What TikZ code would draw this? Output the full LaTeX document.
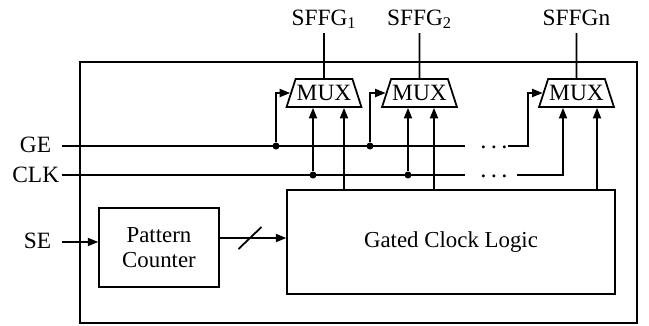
\documentclass[tikz,border=0pt]{standalone}
\usepackage{fontspec}
\setmainfont{Liberation Serif}
\usetikzlibrary{arrows.meta,shapes.geometric}
\newlength{\MuxWidth}
\newlength{\MuxHeight}
\newlength{\WireWidth}
\setlength{\MuxWidth}{1.5cm}
\setlength{\MuxHeight}{0.56cm}
\setlength{\WireWidth}{1pt}
\newcommand{\gapdots}{·\kern1.3pt·\kern1.3pt·}
\tikzset{
  block/.style={draw, rectangle, line width=0.8pt, inner sep=0pt, align=center, font=\fontsize{13}{14.5}\selectfont},
  mux/.style={draw, trapezium, trapezium left angle=64, trapezium right angle=64, trapezium stretches=true, minimum width=\MuxWidth, minimum height=\MuxHeight, inner xsep=-2pt, inner ysep=0pt, font=\fontsize{13.3}{14}\selectfont},
  pin label/.style={draw=none, anchor=east, inner sep=0pt, font=\fontsize{13.3}{14}\selectfont},
  out label/.style={draw=none, anchor=south, inner sep=1pt, text depth=3pt, font=\fontsize{13.3}{14}\selectfont},
  gap dots/.style={draw=none, anchor=base, inner sep=0pt, font=\fontsize{14}{14}\selectfont},
  chip border/.style={draw, line width=1.6pt},
  wire/.style={line width=\WireWidth},
  junction/.style={fill, circle, inner sep=0pt, minimum size=0.14cm}
}

\begin{document}
\begin{tikzpicture}[
  x=0.02cm, y=-0.02cm,
  >={Triangle[length=6pt,width=4.6pt]},
  wire
]
  \useasboundingbox (0,0) rectangle (649,325);
  \draw[chip border] (80,62) rectangle (637,323);

  \node[block, minimum width=2.4cm, minimum height=1.58cm] (pc) at (159,247.5) {Pattern\\Counter};
  \node[block, minimum width=6.56cm, minimum height=2.08cm] (gcl) at (451,242) {Gated Clock Logic};

  \node[mux] (mux1) at (324,93) {MUX};
  \node[mux] (mux2) at (419.5,93) {MUX};
  \node[mux] (muxn) at (576.5,93) {MUX};

  \node[out label] (sffg1) at (324,33) {SFFG\textsubscript{1}};
  \node[out label] (sffg2) at (419.5,33) {SFFG\textsubscript{2}};
  \node[out label] (sffgn) at (576.5,33) {SFFGn};

  \node[pin label] (ge)  at (52,145) {GE};
  \node[pin label] (clk) at (60,175) {CLK};
  \node[pin label] (se)  at (52,241) {SE};

  \coordinate (gein)  at (62,146);
  \coordinate (geend) at (465,146);
  \coordinate (gen)   at (508,146);
  \coordinate (genup) at (528,146);
  \coordinate (clkin)  at (62,175);
  \coordinate (clkend) at (465,175);
  \coordinate (clkn)   at (517,175);
  \coordinate (clknup) at (563,175);
  \coordinate (sein)  at (62,242);
  \coordinate (busy)  at (0,238);
  \coordinate (busmid) at (249.5,238);
  \coordinate (g1) at (344,190);
  \coordinate (g2) at (434,190);
  \coordinate (gn) at (597,190);

  \node[junction] (jge1)  at (276,146) {};
  \node[junction] (jge2)  at (370,146) {};
  \node[junction] (jclk1) at (313,175) {};
  \node[junction] (jclk2) at (408,175) {};

  \node[gap dots] (gedots)  at (494,155) {\gapdots};
  \node[gap dots] (clkdots) at (494,184) {\gapdots};

  % GE and CLK rails
  \draw (gein) -- (geend);
  \draw (clkin) -- (clkend);
  \draw[->] (jge1) |- (mux1.west);
  \draw[->] (jge2) |- (mux2.west);
  \draw[->] (gen) -- (genup) |- (muxn.west);
  \draw[->] (jclk1) -- (jclk1 |- mux1.south);
  \draw[->] (jclk2) -- (jclk2 |- mux2.south);
  \draw[->] (clkn) -- (clknup) -- (clknup |- muxn.south);

  \draw[->] (g1) -- (g1 |- mux1.south);
  \draw[->] (g2) -- (g2 |- mux2.south);
  \draw[->] (gn) -- (gn |- muxn.south);

  \draw (mux1.north) -- (sffg1.south);
  \draw (mux2.north) -- (sffg2.south);
  \draw (muxn.north) -- (sffgn.south);

  \draw[->] (sein) -- (sein -| pc.west);
  \draw[->] (pc.east |- busy) -- (gcl.west |- busy);
  \draw ([shift={(-11,11)}]busmid) -- ([shift={(12,-11)}]busmid);
\end{tikzpicture}
\end{document}
